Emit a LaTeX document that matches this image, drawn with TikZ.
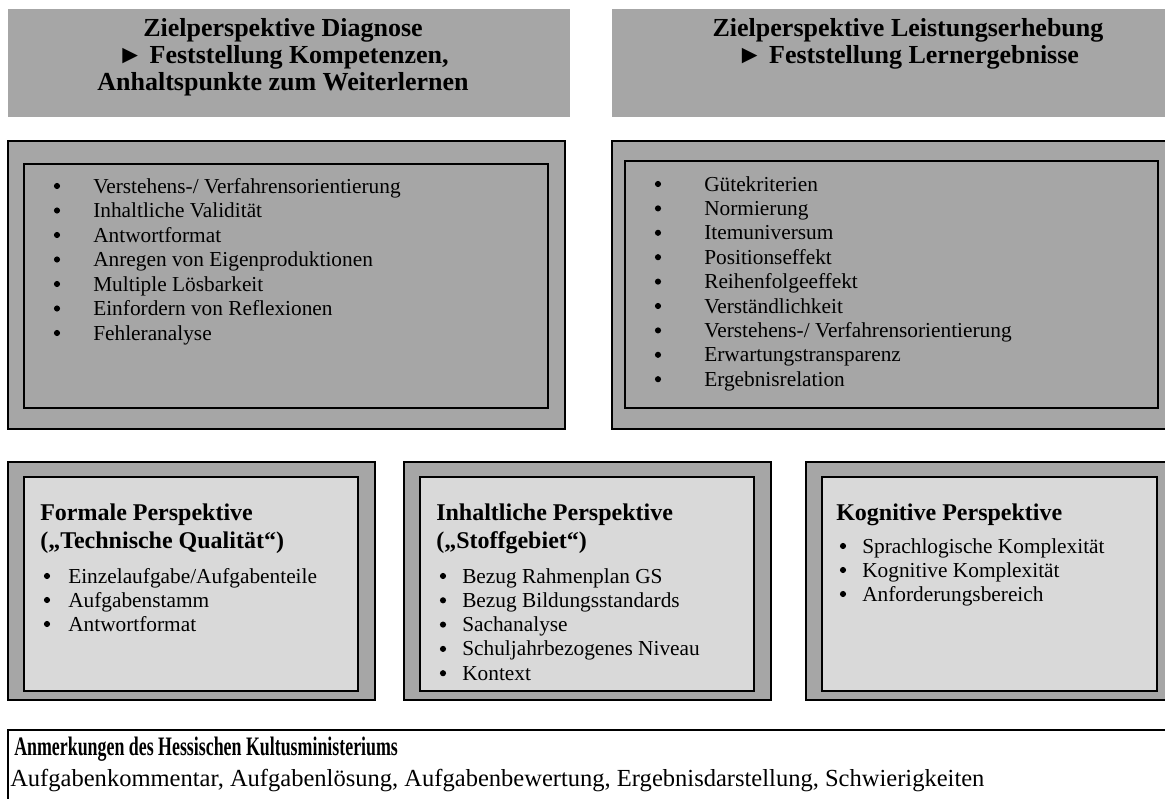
\documentclass[tikz,border=0pt]{standalone}
\usepackage{fontspec}
\setmainfont{Liberation Serif}
\usetikzlibrary{calc}

\definecolor{boxGray}{HTML}{A6A6A6}
\definecolor{paleGray}{HTML}{D9D9D9}

\tikzset{
    hdr/.style={fill=boxGray},
    hdrtext/.style={align=center, inner sep=0pt, font=\fontsize{19.5}{20.25}\selectfont\bfseries},
    outerbox/.style={draw, line width=1.4pt, fill=boxGray},
    innerbox/.style={draw, line width=1.4pt},
    listitem/.style={anchor=base west, inner sep=0pt, font=\fontsize{16}{18}\selectfont},
    listdot/.style={circle, fill=black, inner sep=0pt, minimum size=4.6pt},
    boxtitle/.style={anchor=base west, inner sep=0pt, font=\fontsize{18}{20}\selectfont\bfseries}
}

\begin{document}
\begin{tikzpicture}[x=0.75pt,y=-0.75pt]
            \useasboundingbox (0,0) rectangle (1165,799);
            \clip (0,0) rectangle (1165,799);

            % headers
            \fill [hdr] (8,9) rectangle (570,117);
            \node (diag) at (283,57) [hdrtext] {Zielperspektive Diagnose\\► Feststellung Kompetenzen,\\Anhaltspunkte zum Weiterlernen};
            \fill [hdr] (612,9) rectangle (1210,117);
            \node (leist) at (908,43.5) [hdrtext] {Zielperspektive Leistungserhebung\\► Feststellung Lernergebnisse};

            % upper boxes
            \draw [outerbox] (8,141) rectangle (565,429);
            \draw [innerbox] (24,164) rectangle (548,408);
            \draw [outerbox] (612,141) rectangle (1172,429);
            \draw [innerbox] (625,161) rectangle (1158,408);

            \foreach \txt [count=\i] in {Verstehens-/ Verfahrensorientierung, Inhaltliche Validität, Antwortformat, Anregen von Eigenproduktionen, Multiple Lösbarkeit, Einfordern von Reflexionen, Fehleranalyse}
                {
                    \node at (57,{186+24.5*(\i-1)}) [listdot] {};
                    \node (diag\i) at (93,{193+24.5*(\i-1)}) [listitem] {\txt};
                }

            \foreach \txt [count=\i] in {Gütekriterien, Normierung, Itemuniversum, Positionseffekt, Reihenfolgeeffekt, Verständlichkeit, Verstehens-/ Verfahrensorientierung, Erwartungstransparenz, Ergebnisrelation}
                {
                    \node at (658,{184+24.4*(\i-1)}) [listdot] {};
                    \node (leist\i) at (704,{191+24.4*(\i-1)}) [listitem] {\txt};
                }

            % lower boxes
            \foreach \x/\w in {8/367, 404/367, 806/368}
                {
                    \draw [outerbox] (\x,462) rectangle ($(\x,700) + (\w,0)$);
                    \draw [innerbox, fill=paleGray] ($(\x,477) + (16,0)$) rectangle ($(\x,691) + (\w,0) + (-17,0)$);
                }

            \node (formal) at (40,520) [boxtitle] {Formale Perspektive};
            \node at (40,548) [boxtitle] {(„Technische Qualität“)};
            \foreach \txt [count=\i] in {Einzelaufgabe/Aufgabenteile, Aufgabenstamm, Antwortformat}
                {
                    \node at (47,{576+24*(\i-1)}) [listdot] {};
                    \node (formal\i) at (68,{583+24*(\i-1)}) [listitem] {\txt};
                }

            \node (inhalt) at (436,520) [boxtitle] {Inhaltliche Perspektive};
            \node at (436,548) [boxtitle] {(„Stoffgebiet“)};
            \foreach \txt [count=\i] in {Bezug Rahmenplan GS, Bezug Bildungsstandards, Sachanalyse, Schuljahrbezogenes Niveau, Kontext}
                {
                    \node at (443,{576+24.3*(\i-1)}) [listdot] {};
                    \node (inhalt\i) at (462,{583+24.3*(\i-1)}) [listitem] {\txt};
                }

            \node (kogn) at (836,520) [boxtitle] {Kognitive Perspektive};
            \foreach \txt [count=\i] in {Sprachlogische Komplexität, Kognitive Komplexität, Anforderungsbereich}
                {
                    \node at (843,{546+24*(\i-1)}) [listdot] {};
                    \node (kogn\i) at (862,{553+24*(\i-1)}) [listitem] {\txt};
                }

            % note box
            \draw [line width=1.4pt] (8,830) -- (8,730) -- (1180,730);
            \node (hkm) at (14,755) [anchor=base west, inner sep=0pt, font=\fontsize{20}{22}\selectfont\bfseries] {\scalebox{0.67}[1]{Anmerkungen des Hessischen Kultusministeriums}};
            \node (hkmtext) at (10,786) [anchor=base west, inner sep=0pt, font=\fontsize{18.4}{20}\selectfont] {Aufgabenkommentar, Aufgabenlösung, Aufgabenbewertung, Ergebnisdarstellung, Schwierigkeiten};

        \end{tikzpicture}
\end{document}
